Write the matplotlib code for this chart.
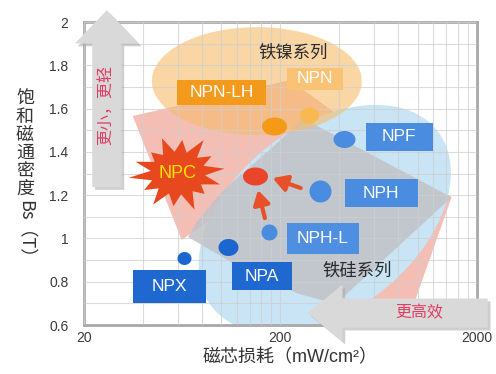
import numpy as np
import matplotlib
matplotlib.use("Agg")
import matplotlib.pyplot as plt
from matplotlib.patches import Polygon, Rectangle, FancyArrowPatch
from matplotlib.path import Path
from matplotlib.markers import MarkerStyle
from matplotlib.ticker import NullFormatter
from matplotlib.transforms import ScaledTranslation

plt.rcParams['font.family'] = ['Liberation Sans', 'Noto Sans CJK SC']

# products: core loss (mW/cm2) vs saturation flux density Bs (T)
products = ['NPX', 'NPA', 'NPH-L', 'NPH', 'NPF', 'NPN', 'NPN-LH', 'NPC']
core_loss = [65, 109, 175, 318, 421, 279, 185, 148]
bs = [0.91, 0.96, 1.03, 1.22, 1.46, 1.57, 1.52, 1.29]

# where each name tag sits (NPC gets the burst instead of a box)
tag_loss = [54.5, 161, 329, 653, 806, 300, 101]
tag_bs = [0.778, 0.826, 1.0, 1.21, 1.469, 1.739, 1.674]
burst_loss, burst_bs = 60.2, 1.302

# material family regions
pink_loss = [35.5, 224, 1490, 860, 350, 111, 63.0]
pink_bs = [1.566, 1.732, 1.19, 0.577, 0.715, 1.15, 0.993]
gray_loss = [260, 1490, 402, 337, 251, 177, 124, 90, 68, 75, 90, 111, 140, 181, 224]
gray_bs = [1.556, 1.19, 0.715, 0.711, 0.743, 0.799, 0.868, 0.942, 1.006,
           1.076, 1.164, 1.251, 1.330, 1.418, 1.496]
fe_ni_center = (152, 1.727)
fe_si_center = (337, 1.09)

dot_colors = ['#1C66CF', '#1C66CF', '#4A8CE0', '#4A8CE0', '#4A8CE0',
              '#F8BA50', '#F59A17', '#E8452A']
dot_sizes = [(14, 13), (20, 17), (16, 16), (22, 22), (22, 17), (19, 16), (25, 18), (25, 18)]
tag_colors = ['#1F68D0', '#1F68D0', '#4F8FE2', '#4A8CE0', '#4A8CE0', '#F9C274', '#F39A1C']
tag_sizes = [(73, 33), (60, 28), (72, 31), (73, 28), (67, 28), (56, 22), (89, 25)]

fig = plt.figure(figsize=(4.96, 3.74), dpi=100)
ax = fig.add_axes([0.169, 0.131, 0.792, 0.810])
ax.set_xscale('log')
ax.set_xlim(20, 2000)
ax.set_ylim(0.6, 2.0)

ax.set_xticks([20, 200, 2000])
ax.set_xticklabels(['20', '200', '2000'])
ax.set_xticks(list(range(40, 200, 20)) + list(range(400, 2000, 200)), minor=True)
ax.xaxis.set_minor_formatter(NullFormatter())
ax.set_yticks([0.6, 0.8, 1.0, 1.2, 1.4, 1.6, 1.8, 2.0])
ax.set_yticklabels(['0.6', '0.8', '1', '1.2', '1.4', '1.6', '1.8', '2'])
ax.set_yticks([0.7, 0.9, 1.1, 1.3, 1.5, 1.7, 1.9], minor=True)
ax.tick_params(which='both', length=0, labelsize=10, labelcolor='#3A3A3A')
ax.tick_params(axis='y', pad=11)
ax.tick_params(axis='x', pad=4)
ax.grid(which='both', color='#CFCFCF', lw=0.8, alpha=0.75)
ax.set_axisbelow(False)
for s in ax.spines.values():
    s.set_color('#A8A8A8')
    s.set_linewidth(2)


def to_data(px, py):
    return ax.transData.inverted().transform(np.column_stack([px, py]))


def ellipse_patch(center, rx, ry, angle, **kw):
    # radii in pixels, so the shape stays an ellipse on the log axis
    x0, y0 = ax.transData.transform(center)
    t = np.linspace(0, 2 * np.pi, 240)
    a = np.deg2rad(angle)
    ex, ey = rx * np.cos(t), ry * np.sin(t)
    pts = to_data(x0 + ex * np.cos(a) - ey * np.sin(a),
                  y0 + ex * np.sin(a) + ey * np.cos(a))
    return Polygon(pts, closed=True, **kw)


def box_at(x, y, w, h, color):
    x0, y0 = ax.transData.transform((x, y))
    (xa, ya), (xb, yb) = to_data([x0 - w / 2, x0 + w / 2], [y0 - h / 2, y0 + h / 2])
    ax.add_patch(Rectangle((xa, ya), xb - xa, yb - ya, facecolor=color,
                           edgecolor='none', zorder=6))


def burst(x, y, rx, ry, color):
    x0, y0 = ax.transData.transform((x, y))
    spikes = [1.0, 0.85, 1.05, 0.9, 1.0, 0.8, 0.95, 1.05, 0.85, 1.0, 0.9, 1.05, 0.8, 0.95]
    n = len(spikes)
    ang = np.linspace(0, 2 * np.pi, 2 * n, endpoint=False) + 0.12
    r = np.empty(2 * n)
    r[0::2] = spikes
    r[1::2] = 0.58
    pts = to_data(x0 + rx * r * np.cos(ang), y0 + ry * r * np.sin(ang))
    ax.add_patch(Polygon(pts, closed=True, facecolor=color, edgecolor='none', zorder=6))


# family regions
ax.add_patch(Polygon(np.column_stack([pink_loss, pink_bs]), closed=True,
                     facecolor='#EE9382', alpha=0.6, edgecolor='none', zorder=1))
ax.add_patch(ellipse_patch(fe_si_center, 143, 92, 38, facecolor='#C8E4F5',
                           edgecolor='none', zorder=1.1))
ax.add_patch(Polygon(np.column_stack([gray_loss, gray_bs]), closed=True,
                     facecolor='#C2C2C8', alpha=0.88, edgecolor='none', zorder=1.2))
ax.add_patch(ellipse_patch(fe_ni_center, 105, 54, 0, facecolor='#F7BC69',
                           alpha=0.6, edgecolor='none', zorder=1.3))

ax.text(232, 1.861, '铁镍系列', fontsize=12.5, color='#2A2A2A', ha='center', va='center', zorder=7)
ax.text(496, 0.854, '铁硅系列', fontsize=12.5, color='#2A2A2A', ha='center', va='center', zorder=7)

# product dots
for xv, yv, c, (w, h) in zip(core_loss, bs, dot_colors, dot_sizes):
    t = np.linspace(0, 2 * np.pi, 60)
    m = MarkerStyle(Path(np.column_stack([np.cos(t), np.sin(t) * h / w])))
    ax.scatter([xv], [yv], s=(w * 0.72) ** 2, marker=m, color=c, linewidths=0, zorder=6)

# name tags
for name, xv, yv, c, (w, h) in zip(products[:-1], tag_loss, tag_bs, tag_colors, tag_sizes):
    box_at(xv, yv, w, h, c)
    ax.text(xv, yv, name, fontsize=12.5, color='white', ha='center', va='center', zorder=7)

burst(burst_loss, burst_bs, 47, 37, '#E8481E')
ax.text(burst_loss, burst_bs, 'NPC', fontsize=13, color='#FFE600', ha='center', va='center', zorder=7)

# arrows pointing into NPC
for start, end in [((254, 1.233), (183, 1.279)), ((167, 1.094), (154, 1.224))]:
    ax.annotate('', xy=end, xytext=start,
                arrowprops=dict(arrowstyle='-|>,head_length=0.6,head_width=0.35',
                                color='#E8502A', lw=3, mutation_scale=14,
                                shrinkA=0, shrinkB=0), zorder=6)

# big gray direction arrows
shadow = ax.transData + ScaledTranslation(2 / 72, -2 / 72, fig.dpi_scale_trans)
for posA, posB, style in [((26.2, 1.2375), (26.2, 2.055),
                           'simple,head_length=24,head_width=46,tail_width=21'),
                          ((2277, 0.655), (276, 0.655),
                           'simple,head_length=25,head_width=41,tail_width=21')]:
    ax.add_patch(FancyArrowPatch(posA, posB, arrowstyle=style, mutation_scale=1,
                                 shrinkA=0, shrinkB=0, facecolor='#A9A9A9', alpha=0.55,
                                 edgecolor='none', transform=shadow, clip_on=False, zorder=8))
    ax.add_patch(FancyArrowPatch(posA, posB, arrowstyle=style, mutation_scale=1,
                                 shrinkA=0, shrinkB=0, facecolor='#D9D9D9',
                                 edgecolor='none', clip_on=False, zorder=9))

ax.text(25.9, 1.616, '更小，更轻', rotation=90, fontsize=11.5, color='#E03C64',
        ha='center', va='center', zorder=10)
ax.text(1026, 0.655, '更高效', fontsize=11.5, color='#E03C64',
        ha='center', va='center', zorder=10, clip_on=False)

# axis titles
ax.text(0.524, -0.108, '磁芯损耗（mW/cm²）', transform=ax.transAxes, fontsize=13,
        color='#333333', ha='center', va='center')
for i, ch in enumerate('饱和磁通密度'):
    fig.text(25 / 496, 1 - (99 + 18 * i) / 374, ch, fontsize=13, color='#333333',
             ha='center', va='center', family=['Noto Sans CJK SC'])
fig.text(25 / 496, 1 - 200 / 374, 'Bs（T）', rotation=270, fontsize=13, color='#333333',
         ha='center', va='top', family=['Noto Sans CJK SC'])

fig.savefig('out.png', dpi=100)
